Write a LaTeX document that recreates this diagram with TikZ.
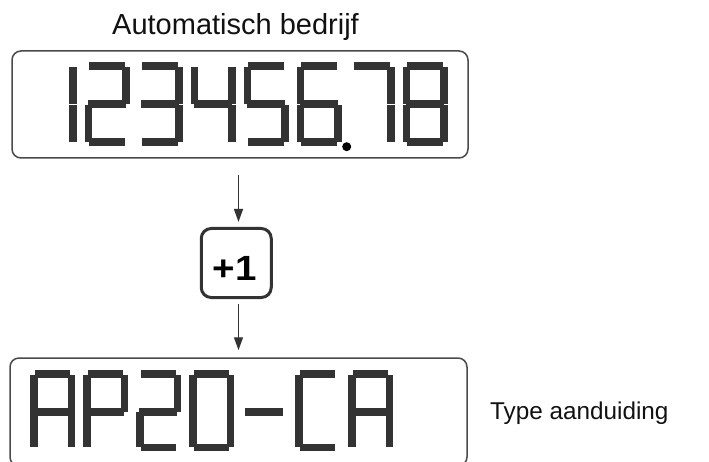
\documentclass[tikz,border=0pt]{standalone}
\usepackage{fontspec}
\usepackage{graphicx}
\setmainfont{Liberation Sans}
\usetikzlibrary{arrows.meta}
\definecolor{segcol}{HTML}{333333}
\definecolor{boxcol}{HTML}{4A4A4A}
\definecolor{txtcol}{HTML}{111111}
% LCD segment drawing: #1 = left x, #2 = top y, #3 = bottom y, #4 = middle y
\newcommand\lcdsega[4]{\fill[segcol] (#1+4.5,#2) rectangle (#1+40,#2+7.5);}
\newcommand\lcdsegd[4]{\fill[segcol] (#1+4.5,#3-7.5) rectangle (#1+40,#3);}
\newcommand\lcdsegg[4]{\fill[segcol] (#1+3,#4-3.75) rectangle (#1+41,#4+3.75);}
\newcommand\lcdsegf[4]{\fill[segcol] (#1,#2+5) rectangle (#1+7.5,#4-0.3);}
\newcommand\lcdsege[4]{\fill[segcol] (#1,#4+0.3) rectangle (#1+7.5,#3-4);}
\newcommand\lcdsegb[4]{\fill[segcol] (#1+37.5,#2+5) rectangle (#1+45,#4-0.3);}
\newcommand\lcdsegc[4]{\fill[segcol] (#1+37.5,#4+0.3) rectangle (#1+45,#3-4);}
\newcommand\lcdchar[5]{\edef\lcdlist{#5}\foreach \sg in \lcdlist {\csname lcdseg\sg\endcsname{#1}{#2}{#3}{#4}}}
\begin{document}
\begin{tikzpicture}[x=1pt,y=-1pt,
  lcdbox/.style={draw=boxcol, line width=1.5pt, rounded corners=9pt, inner sep=0pt},
  plusbox/.style={draw=segcol, line width=3pt, rounded corners=10pt, inner sep=0pt,
    minimum width=70pt, minimum height=69pt},
  plustxt/.style={inner sep=0pt, font=\bfseries\fontsize{35}{40}\selectfont, text=black},
  lbl/.style={inner sep=0pt, text=txtcol},
  arr/.style={draw=segcol, line width=1.3pt, -{Triangle[length=13pt,width=9pt]}}]
\useasboundingbox (0,0) rectangle (709,462);
% boxes
\node[lcdbox, minimum width=456pt, minimum height=107pt] (topbox) at (240,104.5) {};
\node[lcdbox, minimum width=457pt, minimum height=108pt] (botbox) at (238.5,412) {};
\node[plusbox] (plus) at (236.25,263) {};
\node[plustxt, anchor=base] (plustext) at (234.5,280.5) {\scalebox{1.1}[1]{+1}};
% labels
\node[lbl, anchor=base, font=\fontsize{29}{34}\selectfont] (toplabel) at (235.5,35) {Automatisch bedrijf};
\node[lbl, anchor=base west, font=\fontsize{24.3}{29}\selectfont] (typelabel) at (490,419) {Type aanduiding};
% top display digits 1..8
\foreach \i/\segs in {0/{b,c},1/{a,b,g,e,d},2/{a,b,g,c,d},3/{f,g,b,c},4/{a,f,g,c,d},5/{a,f,g,e,c,d},6/{a,b,c},7/{a,b,c,d,e,f,g}}{
  \pgfmathsetmacro\xl{31.5+53*\i}
  \lcdchar{\xl}{62.5}{146}{104.25}{\segs}
}
\fill[black] (346.7,146.7) circle (4.5);
% bottom display AP20-CA
\foreach \i/\segs in {0/{a,b,c,e,f,g},1/{a,b,f,g,e},2/{a,b,g,e,d},3/{a,b,c,d,e,f},4/{g},5/{a,f,e,d},6/{a,b,c,e,f,g}}{
  \pgfmathsetmacro\xl{30+53*\i}
  \lcdchar{\xl}{370}{451}{411.8}{\segs}
}
% arrows
\coordinate (a1s) at (238.5,175);
\coordinate (a2s) at (238.5,304);
\draw[arr, shorten >=5pt] (a1s) -- (a1s |- plus.north);
\draw[arr, shorten >=7pt] (a2s) -- (a2s |- botbox.north);
\end{tikzpicture}
\end{document}
